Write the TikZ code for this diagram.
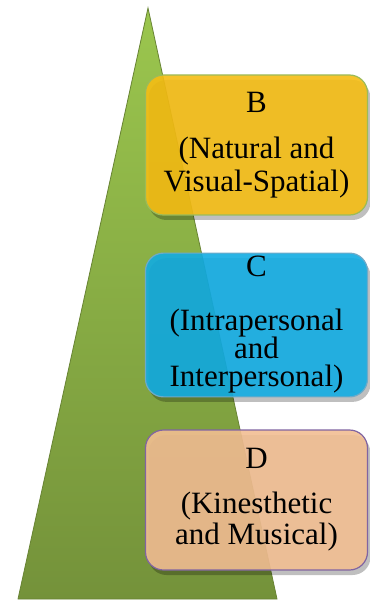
\documentclass[tikz,border=0pt]{standalone}
\usepackage{fontspec}
\setmainfont{Liberation Serif}
\usetikzlibrary{shadows}

\definecolor{treegreen}{RGB}{155,198,78}
\definecolor{treedark}{RGB}{116,146,58}
\definecolor{boxorange}{RGB}{245,189,20}
\definecolor{boxblue}{RGB}{18,172,226}
\definecolor{boxpeach}{RGB}{242,190,146}

\begin{document}
\begin{tikzpicture}[x=1pt, y=-1pt, thick,
		box/.style = {draw, line width=1.2pt, rounded corners=18pt, minimum width=222pt, minimum height=140pt,
			align=center, font=\fontsize{31}{30}\selectfont, fill opacity=0.9, text opacity=1,
			drop shadow={shadow xshift=3pt, shadow yshift=-5pt, opacity=0.25, fill=black}}]

		\useasboundingbox (0,0) rectangle (369,601);

		% the pyramid
		\path[top color=treegreen, bottom color=treedark, draw=treedark!90!black, line width=0.8pt]
			(148,8) -- (277,599) -- (18,599) -- cycle;

		\node[box, fill=boxorange, draw={rgb,255:red,155;green,187;blue,89}] (B) at (256.5,145)
			{B\\[16pt](Natural and\\[3pt]Visual-Spatial)};
		\node[box, fill=boxblue, draw={rgb,255:red,110;green,170;blue,200}] (C) at (256.5,325)
			{C\\[24pt](Intrapersonal\\[-2pt]and\\[-2pt]Interpersonal)};
		\node[box, fill=boxpeach, draw={rgb,255:red,128;green,100;blue,162}] (D) at (256.5,500)
			{D\\[15pt](Kinesthetic\\[1pt]and Musical)};
	\end{tikzpicture}
\end{document}
